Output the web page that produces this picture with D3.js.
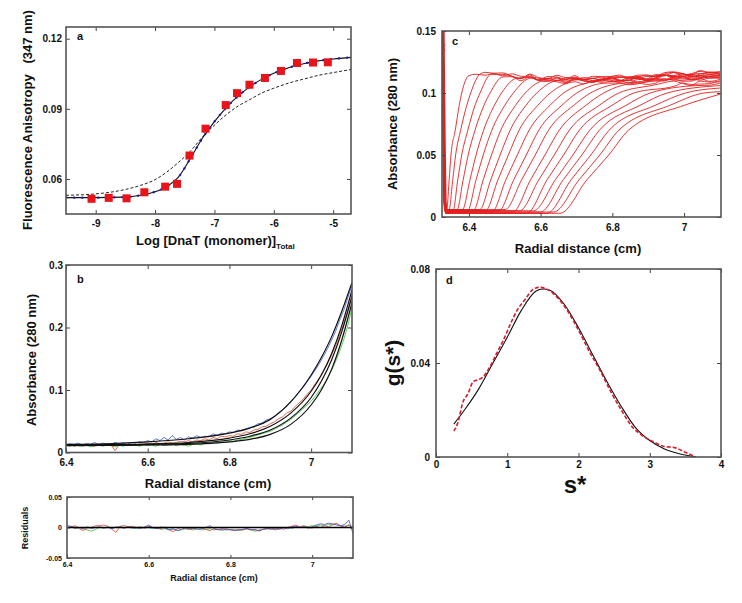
<!DOCTYPE html>
<html>
<head>
<meta charset="utf-8">
<script src="https://cdn.jsdelivr.net/npm/d3@7"></script>
<style>
  body { margin: 0; background: #fff; }
</style>
</head>
<body>
<div id="chart-area"></div>
<script>
const FONT = "Arial, 'Liberation Sans', sans-serif"

// ---- panel a : anisotropy titration ----
const aLogConc = [-9.07, -8.78, -8.48, -8.18, -7.83, -7.63, -7.42, -7.15, -6.81, -6.62, -6.41, -6.15, -5.88, -5.61, -5.34, -5.09]
const aAniso = [0.0515, 0.0519, 0.0517, 0.0543, 0.0567, 0.0579, 0.0700, 0.0815, 0.0916, 0.0967, 0.1003, 0.1032, 0.1062, 0.1096, 0.1098, 0.1099]
const aFitX = [-9.5, -9.0, -8.5, -8.25, -8.0, -7.8, -7.6, -7.4, -7.2, -7.0, -6.8, -6.6, -6.4, -6.2, -6.0, -5.75, -5.5, -5.25, -5.0, -4.7]
const aFitSolid = [0.0520, 0.0520, 0.0522, 0.0530, 0.0545, 0.0568, 0.0610, 0.0690, 0.0775, 0.0845, 0.0905, 0.0955, 0.0995, 0.1027, 0.1052, 0.1076, 0.1093, 0.1105, 0.1113, 0.1120]
const aFitDashed = [0.0530, 0.0536, 0.0555, 0.0572, 0.0597, 0.0630, 0.0672, 0.0720, 0.0780, 0.0830, 0.0875, 0.0912, 0.0940, 0.0968, 0.0988, 0.1010, 0.1027, 0.1043, 0.1055, 0.1068]
const aXTicks = [-9, -8, -7, -6, -5]
const aYTicks = [0.06, 0.09, 0.12]

// ---- panel b : equilibrium scans ----
const bRadius = [6.40, 6.41, 6.42, 6.43, 6.44, 6.45, 6.46, 6.47, 6.48, 6.49,
  6.50, 6.51, 6.52, 6.53, 6.54, 6.55, 6.56, 6.57, 6.58, 6.59,
  6.60, 6.61, 6.62, 6.63, 6.64, 6.65, 6.66, 6.67, 6.68, 6.69,
  6.70, 6.71, 6.72, 6.73, 6.74, 6.75, 6.76, 6.77, 6.78, 6.79,
  6.80, 6.81, 6.82, 6.83, 6.84, 6.85, 6.86, 6.87, 6.88, 6.89,
  6.90, 6.91, 6.92, 6.93, 6.94, 6.95, 6.96, 6.97, 6.98, 6.99,
  7.00, 7.01, 7.02, 7.03, 7.04, 7.05, 7.06, 7.07, 7.08, 7.09, 7.10]
const bBlue = [0.012, 0.014, 0.013, 0.015, 0.012, 0.014, 0.013, 0.016, 0.013, 0.015,
  0.014, 0.013, 0.016, 0.014, 0.015, 0.013, 0.016, 0.015, 0.017, 0.016,
  0.019, 0.017, 0.022, 0.019, 0.024, 0.020, 0.027, 0.021, 0.024, 0.020,
  0.025, 0.023, 0.027, 0.024, 0.026, 0.025, 0.030, 0.027, 0.031, 0.030,
  0.033, 0.032, 0.036, 0.035, 0.038, 0.040, 0.042, 0.046, 0.047, 0.052,
  0.054, 0.058, 0.064, 0.068, 0.075, 0.082, 0.088, 0.097, 0.104, 0.113,
  0.122, 0.132, 0.142, 0.154, 0.166, 0.180, 0.194, 0.212, 0.228, 0.248, 0.268]
const bRed = [0.011, 0.013, 0.010, 0.012, 0.011, 0.013, 0.012, 0.010, 0.013, 0.012,
  0.011, 0.013, 0.003, 0.012, 0.014, 0.012, 0.013, 0.011, 0.014, 0.013,
  0.015, 0.013, 0.016, 0.014, 0.015, 0.017, 0.015, 0.016, 0.018, 0.017,
  0.019, 0.017, 0.020, 0.019, 0.022, 0.020, 0.024, 0.022, 0.026, 0.025,
  0.027, 0.026, 0.030, 0.029, 0.033, 0.032, 0.036, 0.037, 0.041, 0.042,
  0.046, 0.049, 0.054, 0.057, 0.063, 0.066, 0.073, 0.079, 0.085, 0.093,
  0.100, 0.110, 0.119, 0.130, 0.142, 0.156, 0.171, 0.188, 0.207, 0.228, 0.252]
const bGreen = [0.012, 0.010, 0.013, 0.011, 0.010, 0.012, 0.009, 0.011, 0.012, 0.010,
  0.012, 0.011, 0.009, 0.012, 0.010, 0.013, 0.011, 0.012, 0.010, 0.013,
  0.011, 0.012, 0.010, 0.013, 0.011, 0.012, 0.014, 0.011, 0.013, 0.012,
  0.010, 0.013, 0.014, 0.012, 0.015, 0.014, 0.016, 0.015, 0.017, 0.016,
  0.019, 0.018, 0.020, 0.021, 0.023, 0.024, 0.026, 0.028, 0.030, 0.032,
  0.034, 0.037, 0.041, 0.044, 0.049, 0.053, 0.058, 0.064, 0.070, 0.076,
  0.082, 0.090, 0.099, 0.108, 0.119, 0.131, 0.146, 0.162, 0.181, 0.204, 0.232]
const bFitX = [6.4, 6.5, 6.6, 6.7, 6.8, 6.85, 6.9, 6.95, 7.0, 7.025, 7.05, 7.075, 7.1]
const bFits = [
  [0.013, 0.014, 0.017, 0.022, 0.031, 0.039, 0.053, 0.081, 0.124, 0.152, 0.185, 0.226, 0.272],
  [0.012, 0.0125, 0.0135, 0.016, 0.023, 0.030, 0.042, 0.063, 0.098, 0.124, 0.158, 0.203, 0.260],
  [0.012, 0.012, 0.013, 0.0145, 0.020, 0.026, 0.036, 0.055, 0.088, 0.114, 0.148, 0.193, 0.250],
  [0.011, 0.0112, 0.012, 0.013, 0.017, 0.021, 0.029, 0.045, 0.076, 0.100, 0.133, 0.180, 0.240]
]
const bXTicks = [6.4, 6.6, 6.8, 7]
const bYTicks = [0, 0.1, 0.2, 0.3]

// residuals (same radius grid as panel b)
const resBlue = [0.003, 0.002, -0.001, 0.000, -0.002, 0.001, -0.002, 0.000, 0.001, -0.001,
  0.000, -0.002, 0.001, 0.000, -0.001, 0.001, -0.001, 0.000, -0.002, 0.001,
  0.004, 0.000, -0.002, 0.001, -0.001, -0.003, -0.002, -0.005, -0.003, 0.000,
  -0.002, -0.001, -0.003, -0.002, 0.000, 0.003, -0.002, -0.003, -0.002, -0.004,
  -0.003, -0.005, -0.004, -0.003, -0.002, -0.004, -0.003, -0.006, -0.003, -0.002,
  -0.003, -0.001, -0.003, 0.000, -0.002, 0.001, 0.002, 0.000, 0.001, -0.001,
  0.001, 0.004, 0.006, 0.005, 0.007, 0.006, 0.004, 0.003, 0.005, 0.012, -0.010]
const resRed = [0.000, 0.001, 0.003, -0.002, -0.005, -0.001, 0.000, 0.003, 0.003, 0.004,
  0.002, -0.003, -0.008, 0.002, 0.003, 0.001, 0.002, 0.000, 0.001, -0.001,
  0.002, 0.000, -0.001, -0.002, 0.001, -0.004, -0.007, -0.002, 0.000, -0.002,
  -0.003, -0.002, 0.000, -0.001, -0.003, -0.005, -0.002, -0.004, -0.003, -0.002,
  -0.004, -0.005, -0.003, -0.004, -0.002, -0.003, -0.004, -0.005, -0.003, -0.001,
  -0.002, -0.004, -0.001, -0.003, 0.000, 0.002, 0.004, 0.001, 0.003, 0.000,
  -0.001, 0.002, 0.000, 0.003, 0.001, 0.005, 0.007, 0.002, 0.001, 0.004, -0.002]
const resGreen = [-0.001, 0.001, -0.002, 0.000, -0.002, -0.004, -0.006, -0.003, 0.000, -0.001,
  0.001, -0.001, 0.000, 0.002, -0.001, 0.001, 0.000, -0.002, 0.000, -0.001,
  0.000, -0.002, -0.001, -0.003, -0.002, -0.004, -0.003, -0.005, -0.004, -0.002,
  -0.003, -0.004, -0.002, -0.004, -0.003, -0.002, -0.004, -0.003, -0.005, -0.003,
  -0.004, -0.003, -0.005, -0.004, -0.002, -0.004, -0.006, -0.004, -0.003, -0.002,
  -0.001, -0.003, -0.002, -0.001, 0.000, -0.002, 0.001, 0.000, 0.002, 0.001,
  0.003, 0.002, 0.004, 0.003, 0.005, 0.004, 0.006, 0.003, 0.002, 0.004, 0.001]
const resYTicks = [-0.05, 0, 0.05]

// ---- panel c : velocity scans (x where each scan crosses an absorbance level) ----
const scanBaseY = [0.006, 0.005, 0.004, 0.005, 0.006, 0.004, 0.005, 0.006, 0.005, 0.004, 0.005, 0.006, 0.004, 0.005, 0.003, 0.005, 0.004, 0.003, 0.004, 0.003]
const scanFootX = [6.338, 6.344, 6.355, 6.366, 6.382, 6.395, 6.412, 6.430, 6.446, 6.464, 6.483, 6.501, 6.522, 6.541, 6.561, 6.580, 6.599, 6.617, 6.636, 6.654]
const scanX03 = [6.345, 6.355, 6.369, 6.384, 6.403, 6.420, 6.440, 6.461, 6.481, 6.503, 6.525, 6.547, 6.572, 6.595, 6.618, 6.641, 6.663, 6.685, 6.707, 6.729]
const scanX05 = [6.350, 6.363, 6.380, 6.398, 6.420, 6.440, 6.463, 6.487, 6.510, 6.535, 6.560, 6.585, 6.612, 6.638, 6.664, 6.690, 6.715, 6.740, 6.765, 6.790]
const scanX07 = [6.362, 6.377, 6.397, 6.417, 6.441, 6.464, 6.489, 6.515, 6.540, 6.568, 6.595, 6.622, 6.652, 6.680, 6.708, 6.737, 6.764, 6.791, 6.818, 6.845]
const scanX09 = [6.373, 6.394, 6.417, 6.442, 6.471, 6.500, 6.530, 6.559, 6.592, 6.626, 6.659, 6.692, 6.726, 6.763, 6.799, 6.838, 6.877, 6.919, 6.960, 7.000]
const scanX10 = [6.380, 6.405, 6.431, 6.459, 6.491, 6.524, 6.557, 6.589, 6.627, 6.664, 6.701, 6.739, 6.776, 6.818, 6.860, 6.906, 6.953, 7.004, 7.055, null]
const scanJoinX = [6.400, 6.430, 6.462, 6.495, 6.534, 6.574, 6.613, 6.650, 6.697, 6.741, 6.786, 6.831, 6.874, 6.926, 6.978, 7.036, null, null, null, null]
const scanJoinY = [0.114, 0.115, 0.115, 0.113, 0.112, 0.112, 0.110, 0.110, 0.109, 0.109, 0.108, 0.108, 0.108, 0.107, 0.106, 0.106, null, null, null, null]
const scanEndY = [0.117, 0.115, 0.113, 0.116, 0.114, 0.117, 0.112, 0.115, 0.113, 0.116, 0.111, 0.114, 0.112, 0.109, 0.110, 0.108, 0.106, 0.104, 0.101, 0.099]
// plateau band shared by the scans, plus small per-scan ripple
const bandX = [6.42, 6.445, 6.47, 6.495, 6.52, 6.545, 6.57, 6.595, 6.62, 6.645, 6.67, 6.695, 6.72, 6.745, 6.77, 6.795, 6.82, 6.845, 6.87, 6.895, 6.92, 6.945, 6.97, 6.995, 7.02, 7.045, 7.07, 7.1]
const bandY = [0.115, 0.116, 0.116, 0.115, 0.114, 0.113, 0.114, 0.112, 0.112, 0.112, 0.111, 0.112, 0.111, 0.111, 0.111, 0.112, 0.111, 0.111, 0.112, 0.111, 0.112, 0.113, 0.113, 0.113, 0.112, 0.113, 0.113, 0.113]
const ripple = [0.001, -0.001, 0.0005, 0.0015, -0.0005, -0.0015, 0.001, 0, -0.001, 0.0015, 0.0005, -0.001, -0.0015, 0.001, 0.0005, -0.0005, 0.0015, -0.001, 0, 0.001, -0.0015, 0.0005, 0.001, -0.0005, -0.001, 0.0015, 0, -0.0005]
const meniscus = [[6.3275, 0.15], [6.329, 0.10], [6.331, 0.05], [6.333, 0.012], [6.336, 0.005], [6.345, 0.004]]
const cornerBits = [
  [[6.325, 0.142], [6.329, 0.141], [6.333, 0.138]],
  [[6.325, 0.138], [6.330, 0.137], [6.333, 0.134]]
]
const cXTicks = [6.4, 6.6, 6.8, 7]
const cYTicks = [0, 0.05, 0.1, 0.15]

// ---- panel d : g(s*) ----
const dSolidS = [0.25, 0.4, 0.6, 0.8, 1.0, 1.2, 1.4, 1.5, 1.6, 1.8, 2.0, 2.2, 2.4, 2.6, 2.8, 3.0, 3.2, 3.4, 3.6, 3.65]
const dSolidG = [0.0140, 0.0200, 0.0290, 0.0400, 0.0510, 0.0625, 0.0705, 0.0715, 0.0710, 0.0650, 0.0550, 0.0435, 0.0320, 0.0215, 0.0125, 0.0070, 0.0035, 0.0015, 0.0003, 0.0]
const dDashS = [0.25, 0.3, 0.38, 0.45, 0.52, 0.6, 0.66, 0.75, 0.85, 0.95, 1.05, 1.15, 1.25, 1.35, 1.45, 1.55, 1.7, 1.85, 2.0, 2.15, 2.3, 2.45, 2.6, 2.75, 2.9, 3.05, 3.2, 3.35, 3.5, 3.65]
const dDashG = [0.011, 0.014, 0.0235, 0.027, 0.032, 0.033, 0.034, 0.038, 0.044, 0.050, 0.057, 0.063, 0.067, 0.071, 0.0722, 0.0715, 0.068, 0.062, 0.054, 0.045, 0.037, 0.028, 0.020, 0.013, 0.009, 0.0065, 0.0045, 0.004, 0.002, 0.0]
const dXTicks = [0, 1, 2, 3, 4]
const dYTicks = [0, 0.04, 0.08]

const svg = d3.select("#chart-area").append("svg")
  .attr("width", 742)
  .attr("height", 603)

function makePanel(o) {
  const W = o.right - o.left
  const H = o.bottom - o.top
  const g = svg.append("g").attr("transform", `translate(${o.left}, ${o.top})`)
  const x = d3.scaleLinear().domain(o.xDomain).range([0, W])
  const y = d3.scaleLinear().domain(o.yDomain).range([H, 0])
  const fmt = d => String(d)

  g.append("clipPath").attr("id", "clip-" + o.name)
    .append("rect").attr("width", W).attr("height", H)
  const plot = g.append("g").attr("clip-path", `url(#clip-${o.name})`)

  const axes = [
    [d3.axisBottom(x).tickValues(o.xTicks).tickFormat(fmt).tickPadding(o.xPad), `translate(0, ${H})`],
    [d3.axisTop(x).tickValues(o.xTicks).tickFormat(""), "translate(0, 0)"],
    [d3.axisLeft(y).tickValues(o.yTicks).tickFormat(fmt).tickPadding(o.yPad), "translate(0, 0)"],
    [d3.axisRight(y).tickValues(o.yTicks).tickFormat(""), `translate(${W}, 0)`]
  ]
  axes.forEach(([ax, tr]) => {
    const a = g.append("g")
      .attr("transform", tr)
      .call(ax.tickSizeInner(-o.tick).tickSizeOuter(0))
      .attr("font-family", FONT)
      .attr("font-size", o.fontSize)
      .attr("font-weight", "bold")
    a.select(".domain").remove()
    a.selectAll("line").attr("stroke", "#444")
    a.selectAll("text").attr("fill", "#111")
  })

  g.append("rect")
    .attr("width", W)
    .attr("height", H)
    .attr("fill", "none")
    .attr("stroke", "#555")
    .attr("stroke-width", 1.6)

  return { g, plot, x, y }
}

function label(txt, x, y, size, opts = {}) {
  const t = svg.append("text")
    .attr("font-family", FONT)
    .attr("font-weight", "bold")
    .attr("font-size", size)
    .attr("fill", "#111")
    .attr("text-anchor", opts.anchor || "middle")
    .text(txt)
  if (opts.rotate) t.attr("transform", `translate(${x}, ${y}) rotate(-90)`)
  else t.attr("x", x).attr("y", y)
  return t
}

// ---------- panel a ----------
const pa = makePanel({ name: "a", left: 66, top: 27, right: 351, bottom: 214,
  xDomain: [-9.5, -4.7], yDomain: [0.045, 0.125], xTicks: aXTicks, yTicks: aYTicks,
  xPad: 6, yPad: 4, tick: 4, fontSize: 10 })

const lineA = d3.line()
  .x(d => pa.x(d[0]))
  .y(d => pa.y(d[1]))
  .curve(d3.curveMonotoneX)

pa.plot.append("path")
  .attr("d", lineA(aFitX.map((v, i) => [v, aFitDashed[i]])))
  .attr("fill", "none")
  .attr("stroke", "#222")
  .attr("stroke-width", 1)
  .attr("stroke-dasharray", "3,2")

pa.plot.append("path")
  .attr("d", lineA(aFitX.map((v, i) => [v, aFitSolid[i]])))
  .attr("fill", "none")
  .attr("stroke", "#111")
  .attr("stroke-width", 1.1)

pa.plot.append("path")
  .attr("d", lineA(aFitX.map((v, i) => [v, aFitSolid[i]])))
  .attr("fill", "none")
  .attr("stroke", "#1c1ca0")
  .attr("stroke-width", 2.2)
  .attr("stroke-linecap", "round")
  .attr("stroke-dasharray", "0.5,7.5")

pa.plot.selectAll("rect.pt")
  .data(aLogConc)
  .enter().append("rect")
  .attr("class", "pt")
  .attr("x", d => pa.x(d) - 4)
  .attr("y", (d, i) => pa.y(aAniso[i]) - 4)
  .attr("width", 8)
  .attr("height", 8)
  .attr("fill", "#e8141a")

label("a", 77, 40, 11, { anchor: "start" })
label("Fluorescence Anisotropy   (347 nm)", 32, 120, 13, { rotate: true })
  .style("white-space", "pre")
const xa = label("Log [DnaT (monomer)]", 136, 245, 13, { anchor: "start" })
xa.append("tspan").attr("font-size", 8).attr("dy", 4).text("Total")

// ---------- panel b ----------
const pb = makePanel({ name: "b", left: 66, top: 265, right: 352, bottom: 452.5,
  xDomain: [6.4, 7.1], yDomain: [0, 0.3], xTicks: bXTicks, yTicks: bYTicks,
  xPad: 6, yPad: 3, tick: 4, fontSize: 10 })

const lineB = d3.line()
  .x(d => pb.x(d[0]))
  .y(d => pb.y(d[1]))
const fitLineB = d3.line()
  .x(d => pb.x(d[0]))
  .y(d => pb.y(d[1]))
  .curve(d3.curveMonotoneX)

const bSeries = [[bGreen, "#46c846"], [bRed, "#e05a3c"], [bBlue, "#5468d8"]]
bSeries.forEach(([vals, col]) => {
  pb.plot.append("path")
    .attr("d", lineB(bRadius.map((r, i) => [r, vals[i]])))
    .attr("fill", "none")
    .attr("stroke", col)
    .attr("stroke-width", 0.9)
})

bFits.forEach(vals => {
  pb.plot.append("path")
    .attr("d", fitLineB(bFitX.map((r, i) => [r, vals[i]])))
    .attr("fill", "none")
    .attr("stroke", "#111")
    .attr("stroke-width", 1.2)
})

label("b", 77, 283, 11, { anchor: "start" })
label("Absorbance (280 nm)", 36, 360, 13, { rotate: true })
label("Radial distance (cm)", 208, 488, 13)

// ---------- residuals ----------
const pr = makePanel({ name: "r", left: 67, top: 497, right: 353, bottom: 558,
  xDomain: [6.4, 7.1], yDomain: [-0.05, 0.05], xTicks: bXTicks, yTicks: resYTicks,
  xPad: 4, yPad: 5, tick: 3, fontSize: 7 })

const lineR = d3.line()
  .x(d => pr.x(d[0]))
  .y(d => pr.y(d[1]))

;[[resGreen, "#3fbf3f"], [resRed, "#d9473f"], [resBlue, "#4b4bd0"]].forEach(([vals, col]) => {
  pr.plot.append("path")
    .attr("d", lineR(bRadius.map((r, i) => [r, vals[i]])))
    .attr("fill", "none")
    .attr("stroke", col)
    .attr("stroke-width", 0.8)
})

pr.plot.append("path")
  .attr("d", lineR([[6.4, 0], [7.1, 0]]))
  .attr("stroke", "#000")
  .attr("stroke-width", 1.6)

label("Residuals", 28, 528, 9, { rotate: true })
label("Radial distance (cm)", 214, 581, 9)

// ---------- panel c ----------
const pc = makePanel({ name: "c", left: 442, top: 31, right: 721, bottom: 217,
  xDomain: [6.325, 7.103], yDomain: [0, 0.15], xTicks: cXTicks, yTicks: cYTicks,
  xPad: 7, yPad: 6, tick: 4, fontSize: 10 })

const lineC = d3.line()
  .x(d => pc.x(d[0]))
  .y(d => pc.y(d[1]))
  .curve(d3.curveMonotoneX)

const bandAt = d3.scaleLinear().domain(bandX).range(bandY).clamp(true)

scanX05.forEach((_, k) => {
  const pts = [
    [6.334, scanBaseY[k]],
    [scanFootX[k], scanBaseY[k]],
    [scanX03[k], 0.03],
    [scanX05[k], 0.05],
    [scanX07[k], 0.07],
    [scanX09[k], 0.09]
  ]
  if (scanX10[k] != null) pts.push([scanX10[k], 0.1])
  const jx = scanJoinX[k]
  if (jx != null) {
    pts.push([jx, scanJoinY[k]])
    const b0 = bandAt(jx)
    const bEnd = bandY[bandY.length - 1]
    bandX.forEach((bx, i) => {
      if (bx <= jx + 0.015) return
      const r = (bx - jx) / (7.1 - jx)
      const rip = i < bandX.length - 1 ? ripple[(i + 5 * k) % ripple.length] : 0
      pts.push([bx, bandY[i] + rip + (scanJoinY[k] - b0) * (1 - r) + (scanEndY[k] - bEnd) * r])
    })
  } else {
    pts.push([7.1, scanEndY[k]])
  }
  pc.plot.append("path")
    .attr("d", lineC(pts))
    .attr("fill", "none")
    .attr("stroke", "#e41e1e")
    .attr("stroke-width", 0.9)
})

cornerBits.forEach(pts => {
  pc.plot.append("path")
    .attr("d", lineC(pts))
    .attr("fill", "none")
    .attr("stroke", "#e41e1e")
    .attr("stroke-width", 0.9)
})

pc.plot.append("path")
  .attr("d", d3.line().x(d => pc.x(d[0])).y(d => pc.y(d[1]))(meniscus))
  .attr("fill", "none")
  .attr("stroke", "#e41e1e")
  .attr("stroke-width", 3.5)

label("c", 452, 45, 11, { anchor: "start" })
label("Absorbance (280 nm)", 397, 124, 13, { rotate: true })
label("Radial distance (cm)", 578, 253, 13)

// ---------- panel d ----------
const pd = makePanel({ name: "d", left: 436, top: 269, right: 721, bottom: 457,
  xDomain: [0, 4], yDomain: [0, 0.08], xTicks: dXTicks, yTicks: dYTicks,
  xPad: 4, yPad: 6, tick: 4, fontSize: 10 })

const lineD = d3.line()
  .x(d => pd.x(d[0]))
  .y(d => pd.y(d[1]))
  .curve(d3.curveMonotoneX)

pd.plot.append("path")
  .attr("d", lineD(dSolidS.map((s, i) => [s, dSolidG[i]])))
  .attr("fill", "none")
  .attr("stroke", "#111")
  .attr("stroke-width", 1.1)

pd.plot.append("path")
  .attr("d", lineD(dDashS.map((s, i) => [s, dDashG[i]])))
  .attr("fill", "none")
  .attr("stroke", "#d81a2a")
  .attr("stroke-width", 1.6)
  .attr("stroke-dasharray", "4,2")

label("d", 446, 284, 11, { anchor: "start" })
label("g(s*)", 400, 363, 21, { rotate: true })
label("s*", 575, 493, 24)
</script>
</body>
</html>
